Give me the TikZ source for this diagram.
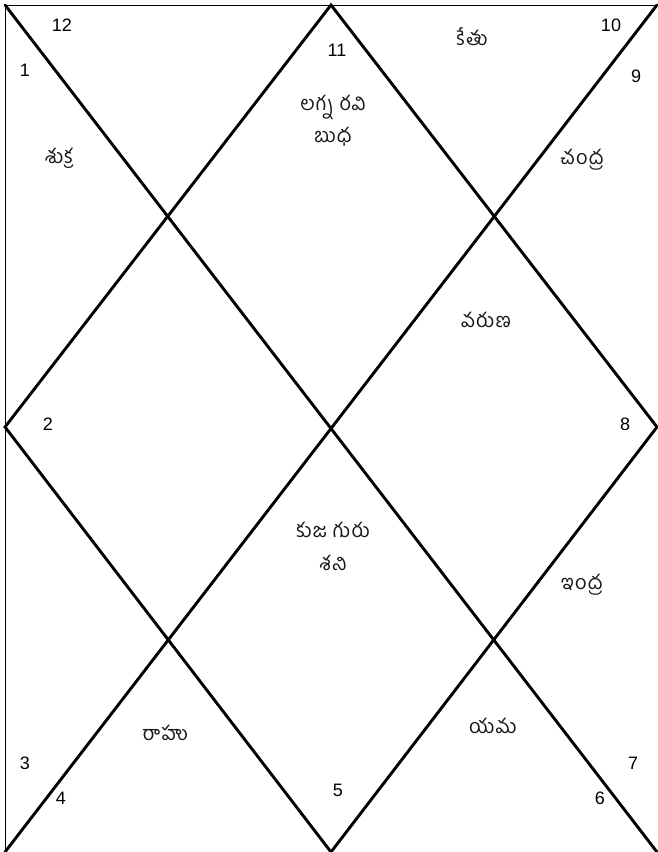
\documentclass[tikz,border=0pt]{standalone}
\usepackage{fontspec}
\setmainfont{Liberation Sans}
\newfontfamily\te[Script=Telugu,LetterSpace=6]{Hind Guntur}
\tikzset{
  num/.style={font=\fontsize{18}{20}\selectfont, text=black, inner sep=0pt},
  planet/.style={font=\te\fontsize{20}{24}\selectfont, text=black!90, inner sep=0pt, align=center},
  frame/.style={line width=1pt, black},
  chartline/.style={line width=2.9pt, black, line cap=round}
}
\begin{document}
\begin{tikzpicture}[x=1pt,y=-1pt]
\useasboundingbox (0,0) rectangle (657,852);
\fill[white] (0,0) rectangle (657,852);
% corners and midpoints
\coordinate (TL) at (5,5);
\coordinate (TR) at (657,5);
\coordinate (BL) at (5,852);
\coordinate (BR) at (657,852);
\coordinate (T) at (331,5);
\coordinate (R) at (657,427);
\coordinate (B) at (331,852);
\coordinate (L) at (5,427);
% frame
\draw[frame] (BL) -- (TL) -- (TR);
% diagonals
\draw[chartline] (TL) -- (BR);
\draw[chartline] (TR) -- (BL);
% diamond
\draw[chartline] (T) -- (R) -- (B) -- (L) -- cycle;
% house numbers
\node[num] (n12) at (62,25) {12};
\node[num] (n1) at (25,70) {1};
\node[num] (n11) at (337,50) {11};
\node[num] (n10) at (611,25) {10};
\node[num] (n9) at (636,76) {9};
\node[num] (n2) at (48,424) {2};
\node[num] (n8) at (625,424) {8};
\node[num] (n3) at (25,763) {3};
\node[num] (n4) at (61,798) {4};
\node[num] (n5) at (338,790) {5};
\node[num] (n6) at (600,798) {6};
\node[num] (n7) at (633,763) {7};
% planets
\node[planet] (p1) at (59,158) {శుక్ర};
\node[planet] (p11a) at (333,107) {లగ్న రవి};
\node[planet] (p11b) at (333,137) {బుధ};
\node[planet] (p10) at (472,37) {కేతు};
\node[planet] (p9) at (582,160) {చంద్ర};
\node[planet] (p8a) at (486,320) {వరుణ};
\node[planet] (p5a) at (333,530) {కుజ గురు};
\node[planet] (p5b) at (333,563) {శని};
\node[planet] (p7) at (582,585) {ఇంద్ర};
\node[planet] (p4) at (165,733) {రాహు};
\node[planet] (p6) at (493,726) {యమ};
\end{tikzpicture}
\end{document}
